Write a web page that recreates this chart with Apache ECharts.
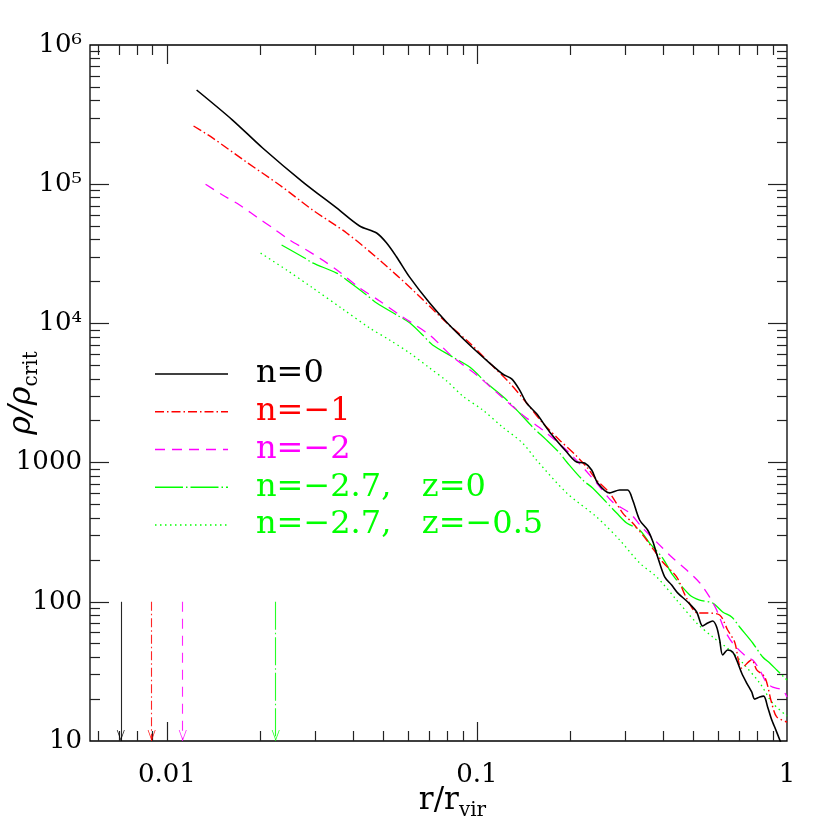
<!DOCTYPE html>
<html>
<head>
<meta charset="utf-8">
<script src="https://cdn.jsdelivr.net/npm/echarts@6/dist/echarts.min.js"></script>
<style>
  html, body { margin: 0; padding: 0; background: #fff; }
  #chart { width: 830px; height: 830px; }
</style>
</head>
<body>
<div id="chart"></div>
<script>
// ---- data ----
const rN0 = [0.01247, 0.01628, 0.02036, 0.0274, 0.03527, 0.04183, 0.04748, 0.05113, 0.05508, 0.06066, 0.07039, 0.07987, 0.09474, 0.1099, 0.121, 0.1294, 0.1373, 0.1446, 0.1558, 0.1716, 0.1948, 0.2097, 0.2225, 0.2344, 0.2451, 0.268, 0.2886, 0.3063, 0.3179, 0.3347, 0.3552, 0.3687, 0.3827, 0.4031, 0.4246, 0.4439, 0.4782, 0.5112, 0.5346, 0.5548, 0.5758, 0.5931, 0.6065, 0.6202, 0.6435, 0.6678, 0.6879, 0.7141, 0.7413, 0.7693, 0.7867, 0.8164, 0.8411, 0.8665, 0.8925, 0.9126, 0.9543];
const rhoN0 = [4.75e5, 2.89e5, 1.82e5, 1.04e5, 6.75e4, 5.01e4, 4.46e4, 3.78e4, 3.0e4, 2.15e4, 1.40e4, 1.02e4, 7000, 5190, 4330, 3990, 3320, 2680, 2240, 1660, 1190, 1010, 993, 885, 714, 605, 635, 635, 539, 387, 328, 273, 210, 151, 132, 116, 99.7, 84.5, 67.0, 70.4, 72.8, 65.9, 53.2, 41.5, 45.1, 43.6, 38.2, 30.8, 26.1, 22.5, 20.0, 20.7, 21.0, 17.5, 14.2, 12.6, 9.8];

const rN1 = [0.01219, 0.01404, 0.01807, 0.02309, 0.02951, 0.038, 0.04855, 0.06203, 0.07987, 0.09474, 0.1099, 0.1275, 0.1446, 0.1628, 0.1848, 0.2082, 0.2259, 0.2432, 0.268, 0.2953, 0.3179, 0.3526, 0.3972, 0.4406, 0.4747, 0.515, 0.5508, 0.6065, 0.6435, 0.6779, 0.7141, 0.7693, 0.7987, 0.8482, 0.8925, 0.9264, 1.0];
const rhoN1 = [2.62e5, 2.15e5, 1.44e5, 9.87e4, 6.53e4, 4.46e4, 2.85e4, 1.74e4, 1.01e4, 7230, 5190, 3730, 2680, 1930, 1450, 1130, 930, 750, 605, 434, 368, 278, 193, 151, 106, 83.1, 83.1, 80.4, 62.7, 51.4, 33.4, 38.2, 32.4, 28.8, 18.7, 14.9, 13.7];

const rN2 = [0.01333, 0.01512, 0.01716, 0.01948, 0.02193, 0.02488, 0.02822, 0.03179, 0.03606, 0.04183, 0.04855, 0.05631, 0.07039, 0.0835, 0.09977, 0.1183, 0.1404, 0.1678, 0.1991, 0.2432, 0.274, 0.3109, 0.3423, 0.3827, 0.4246, 0.4747, 0.5228, 0.5631, 0.5931, 0.6295, 0.6678, 0.7413, 0.7752, 0.8164, 0.8602, 0.8993, 0.9685, 1.0];
const rhoN2 = [1.0e5, 8.36e4, 7.09e4, 5.81e4, 4.85e4, 3.97e4, 3.37e4, 2.85e4, 2.34e4, 1.80e4, 1.45e4, 1.15e4, 8250, 5740, 4260, 3060, 2200, 1630, 1170, 714, 521, 434, 339, 264, 210, 169, 137, 108, 87.3, 62.7, 50.6, 40.1, 38.2, 32.4, 26.1, 24.4, 23.2, 20.7];

const rN27z0 = [0.02344, 0.02781, 0.02951, 0.03527, 0.038, 0.04407, 0.04748, 0.05508, 0.06066, 0.06682, 0.07194, 0.0835, 0.09474, 0.1075, 0.1247, 0.1373, 0.1512, 0.1678, 0.1848, 0.1948, 0.2193, 0.2361, 0.2822, 0.304, 0.3347, 0.3606, 0.3972, 0.4278, 0.4855, 0.5228, 0.5758, 0.6202, 0.663, 0.7035, 0.7752, 0.835, 0.8794, 0.9264, 1.0];
const rhoN27z0 = [3.66e4, 2.95e4, 2.72e4, 2.30e4, 2.05e4, 1.60e4, 1.40e4, 1.15e4, 1.01e4, 8250, 7000, 5740, 4860, 3730, 2820, 2270, 1800, 1450, 1170, 1010, 750, 657, 434, 368, 328, 264, 206, 156, 112, 103, 98.0, 84.5, 77.8, 65.9, 50.6, 40.1, 36.3, 32.4, 27.4];

const rN27z05 = [0.02006, 0.02432, 0.02951, 0.03687, 0.04507, 0.05228, 0.06066, 0.07039, 0.07987, 0.08994, 0.1043, 0.121, 0.1404, 0.1558, 0.1948, 0.2432, 0.2886, 0.3347, 0.3799, 0.4406, 0.5112, 0.5758, 0.6532, 0.72, 0.8164, 0.8993, 1.0];
const rhoN27z05 = [3.20e4, 2.42e4, 1.80e4, 1.27e4, 9270, 7600, 6130, 4780, 3860, 3010, 2390, 1800, 1380, 1040, 605, 407, 278, 190, 151, 103, 70.4, 55.9, 45.1, 36.3, 26.1, 18.7, 15.1];

// arrows near the bottom axis (one per n)
const arrowR = [0.0071, 0.00893, 0.01125, 0.02244];
const arrowTop = 100;
const arrowBottom = 10;

// series look
const seriesNames = ['n=0', 'n=\u22121', 'n=\u22122', 'n=\u22122.7,   z=0', 'n=\u22122.7,   z=\u22120.5'];
const seriesColors = ['#000000', '#ff0000', '#ff00ff', '#00ff00', '#00ff00'];
const seriesDash = ['solid', [9, 3, 1.5, 3], [10, 7], [28, 3, 1.5, 3], [1.5, 3.5]];
const seriesWidth = [1.6, 1.4, 1.3, 1.3, 1.3];

// axes
const xMin = 0.00565, xMax = 1;
const yMin = 10, yMax = 1e6;
const xMajorTicks = [0.01, 0.1, 1];
const xMajorLabels = ['0.01', '0.1', '1'];
const xMinorTicks = [0.006, 0.007, 0.008, 0.009, 0.02, 0.03, 0.04, 0.05, 0.06, 0.07, 0.08, 0.09, 0.2, 0.3, 0.4, 0.5, 0.6, 0.7, 0.8, 0.9];
const yMajorTicks = [10, 100, 1000, 1e4, 1e5, 1e6];
const yMajorLabels = ['10', '100', '1000', '10\u2074', '10\u2075', '10\u2076'];
const yMinorTicks = [20, 30, 40, 50, 60, 70, 80, 90, 200, 300, 400, 500, 600, 700, 800, 900, 2000, 3000, 4000, 5000, 6000, 7000, 8000, 9000, 2e4, 3e4, 4e4, 5e4, 6e4, 7e4, 8e4, 9e4, 2e5, 3e5, 4e5, 5e5, 6e5, 7e5, 8e5, 9e5];

const FONT = 'DejaVu Serif';
const rList = [rN0, rN1, rN2, rN27z0, rN27z05];
const rhoList = [rhoN0, rhoN1, rhoN2, rhoN27z0, rhoN27z05];

function pickLabel(ticks, labels, v) {
  for (let i = 0; i < ticks.length; i++) {
    if (Math.abs(ticks[i] - v) / ticks[i] < 1e-6) return labels[i];
  }
  return '';
}

const tickLine = { color: '#222', width: 1.2 };

function logAxis(kind, pos, grid, ticks, len, withLabels) {
  const isX = kind === 'x';
  const lo = isX ? xMin : yMin;
  const hi = isX ? xMax : yMax;
  // ticks sitting on the frame itself are left out, the border already draws them
  const inner = ticks.filter(v => v > lo * 1.0001 && v < hi * 0.9999);
  const ax = {
    type: 'log',
    logBase: 10,
    gridIndex: grid,
    position: pos,
    min: lo,
    max: hi,
    axisLine: { show: false },
    axisTick: { show: true, inside: true, length: len, customValues: inner, lineStyle: tickLine },
    axisLabel: { show: false },
    splitLine: { show: false },
    minorTick: { show: false },
    minorSplitLine: { show: false }
  };
  if (withLabels) {
    const labs = isX ? xMajorLabels : yMajorLabels;
    ax.axisLabel = {
      show: true,
      customValues: ticks,
      formatter: v => pickLabel(ticks, labs, v),
      fontFamily: FONT,
      fontSize: 26,
      color: '#000',
      margin: isX ? 21 : 8
    };
  }
  return ax;
}

const xAxes = [
  logAxis('x', 'bottom', 0, xMajorTicks, 19, true),
  logAxis('x', 'top', 0, xMajorTicks, 19, false),
  logAxis('x', 'bottom', 1, xMinorTicks, 10, false),
  logAxis('x', 'top', 1, xMinorTicks, 10, false)
];
xAxes[0].name = '{a|r/r}{b|vir}';
xAxes[0].nameLocation = 'middle';
xAxes[0].nameGap = 44;
xAxes[0].nameMoveOverlap = false;
xAxes[0].nameTextStyle = {
  rich: {
    a: { fontFamily: FONT, fontSize: 31, color: '#000', lineHeight: 36, verticalAlign: 'top', padding: [0, 0, 0, 28] },
    b: { fontFamily: FONT, fontSize: 20, color: '#000', lineHeight: 36, verticalAlign: 'bottom', padding: [14, 0, 0, 0] }
  }
};

const yAxes = [
  logAxis('y', 'left', 0, yMajorTicks, 19, true),
  logAxis('y', 'right', 0, yMajorTicks, 19, false),
  logAxis('y', 'left', 1, yMinorTicks, 10, false),
  logAxis('y', 'right', 1, yMinorTicks, 10, false)
];
yAxes[0].name = '{a|\u03c1/\u03c1}{b|crit}';
yAxes[0].nameLocation = 'middle';
yAxes[0].nameGap = 48;
yAxes[0].nameMoveOverlap = false;
yAxes[0].nameTextStyle = {
  rich: {
    a: { fontFamily: FONT, fontSize: 32, fontStyle: 'italic', color: '#000', lineHeight: 36, verticalAlign: 'top' },
    b: { fontFamily: FONT, fontSize: 20, color: '#000', lineHeight: 36, verticalAlign: 'bottom', padding: [14, 0, 0, 0] }
  }
};

// open V arrow head, tip in the middle of the symbol box
const arrowHead = 'path://M5,0 L5,0 M0,20 L5,10 L10,20 L9,20 L5,12 L1,20 Z';

const series = rList.map((rs, i) => {
  const s = {
    name: seriesNames[i],
    type: 'line',
    xAxisIndex: 0,
    yAxisIndex: 0,
    data: rs.map((r, j) => [r, rhoList[i][j]]),
    showSymbol: false,
    symbol: 'none',
    smooth: 0.3,
    clip: true,
    lineStyle: { color: seriesColors[i], width: seriesWidth[i], type: seriesDash[i] },
    z: 10 - i
  };
  if (i < arrowR.length) {
    s.markLine = {
      silent: true,
      animation: false,
      symbol: ['none', arrowHead],
      symbolSize: [8, 22],
      label: { show: false },
      lineStyle: { color: seriesColors[i], width: 1.1, type: seriesDash[i], opacity: 0.85 },
      data: [[{ coord: [arrowR[i], arrowTop] }, { coord: [arrowR[i], arrowBottom] }]]
    };
  }
  return s;
});

// legend drawn inside the plot, like the original
const legendX = 155, legendLineW = 73, legendTextX = 256, legendTop = 374, legendStep = 37.75;
const legendItems = [];
seriesNames.forEach((nm, i) => {
  const y = legendTop + i * legendStep;
  legendItems.push({
    type: 'line',
    shape: { x1: legendX, y1: y, x2: legendX + legendLineW, y2: y },
    style: { stroke: seriesColors[i], lineWidth: seriesWidth[i], lineDash: seriesDash[i] === 'solid' ? null : seriesDash[i] },
    z: 100
  });
  legendItems.push({
    type: 'text',
    x: legendTextX,
    y: y,
    style: { text: nm, fill: seriesColors[i], font: '32px "' + FONT + '"', textVerticalAlign: 'middle', textAlign: 'left' },
    z: 100
  });
});

const gridBox = { left: 90, top: 45, right: 43, bottom: 89, containLabel: false, outerBoundsMode: 'none' };

const option = {
  animation: false,
  backgroundColor: '#ffffff',
  grid: [
    Object.assign({ show: true, borderColor: '#000', borderWidth: 1.3, backgroundColor: 'transparent' }, gridBox),
    Object.assign({ show: false }, gridBox)
  ],
  xAxis: xAxes,
  yAxis: yAxes,
  series: series,
  graphic: legendItems
};

const chart = echarts.init(document.getElementById('chart'), null, { renderer: 'canvas', width: 830, height: 830 });
chart.setOption(option);
</script>
</body>
</html>
